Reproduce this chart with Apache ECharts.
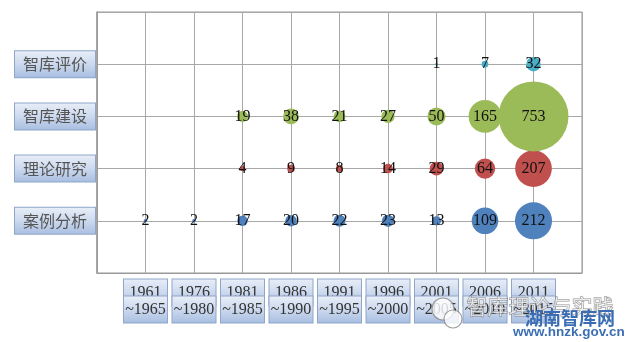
<!DOCTYPE html>
<html>
<head>
<meta charset="utf-8">
<script src="https://cdn.jsdelivr.net/npm/echarts@6/dist/echarts.min.js"></script>
<style>
html,body{margin:0;padding:0;background:#fff;}
#c{width:633px;height:342px;}
</style>
</head>
<body>
<div id="c"></div>
<script>
// ---- data ----
var periods = ['1961\n~1965','1976\n~1980','1981\n~1985','1986\n~1990','1991\n~1995','1996\n~2000','2001\n~2005','2006\n~2010','2011\n~2015'];
var topics = ['案例分析','理论研究','智库建设','智库评价'];
// values per period (null = no bubble)
var caseAnalysis  = [2, 2, 17, 20, 22, 23, 13, 109, 212];
var theoryStudy   = [null, null, 4, 9, 8, 14, 29, 64, 207];
var tankBuilding  = [null, null, 19, 38, 21, 27, 50, 165, 753];
var tankEvaluation= [null, null, null, null, null, null, 1, 7, 32];
var seriesColors = ['#4F81BD','#C0504D','#9BBB59','#4BACC6'];

function toPoints(arr, row){
  var out = [];
  arr.forEach(function(v,i){ if(v!=null) out.push([i+1,row,v]); });
  return out;
}
var chart = echarts.init(document.getElementById('c'));
var boxGrad = function(){
  return new echarts.graphic.LinearGradient(0,0,0,1,[
    {offset:0,color:'#e9eff8'},{offset:0.5,color:'#ccd9ee'},{offset:1,color:'#a7bde0'}]);
};
var allSeries = [caseAnalysis, theoryStudy, tankBuilding, tankEvaluation].map(function(arr, k){
  return {
    type:'scatter',
    name: topics[k],
    data: toPoints(arr, k+1),
    symbolSize: function(d){ return 2.55*Math.sqrt(d[2]); },
    itemStyle:{color:seriesColors[k], opacity:1},
    label:{show:true, position:'inside', formatter:function(p){return p.data[2];},
      color:'#111', fontFamily:'Liberation Serif', fontSize:16},
    emphasis:{disabled:true}
  };
});
chart.setOption({
  animation:false,
  grid:{left:97, right:51, top:12, bottom:69, show:true, borderColor:'#999', borderWidth:1},
  xAxis:{type:'value', min:0, max:10, interval:1,
    axisLine:{show:true, lineStyle:{color:'#999'}}, axisTick:{show:false},
    splitLine:{show:true, lineStyle:{color:'#a8a8a8', width:1}},
    axisLabel:{margin:11, showMinLabel:false, showMaxLabel:false,
      formatter:function(v){ var i=Math.round(v)-1; return (i>=0&&i<periods.length)?'{b|'+periods[i]+'}':''; },
      rich:{b:{fontFamily:'Liberation Serif', fontSize:16, lineHeight:17, color:'#333',
        backgroundColor:boxGrad(), borderColor:'#8fa6c9', borderWidth:1, padding:[5,1,5,1],
        width:41, align:'center'}}}
  },
  yAxis:{type:'value', min:0, max:5, interval:1,
    axisLine:{show:true, lineStyle:{color:'#999', width:1.5}}, axisTick:{show:false},
    splitLine:{show:true, lineStyle:{color:'#a8a8a8', width:1}},
    axisLabel:{margin:2, showMinLabel:false, showMaxLabel:false,
      formatter:function(v){ var i=Math.round(v)-1; return (i>=0&&i<topics.length)?'{b|'+topics[i]+'}':''; },
      rich:{b:{fontFamily:'Noto Sans CJK SC', fontSize:16, color:'#555', lineHeight:17,
        backgroundColor:boxGrad(), borderColor:'#8fa6c9', borderWidth:1, padding:[5,6,5,6],
        width:68, align:'center'}}}
  },
  series: allSeries,
  graphic:[
    {type:'circle', shape:{cx:443, cy:309, r:11}, style:{fill:'rgba(255,255,255,0.8)', stroke:'rgba(120,120,120,0.7)', lineWidth:1.2}, z:100},
    {type:'circle', shape:{cx:453, cy:319, r:9}, style:{fill:'rgba(255,255,255,0.8)', stroke:'rgba(120,120,120,0.7)', lineWidth:1.2}, z:101},
    {type:'text', left:466, top:295, z:102, style:{text:'智库理论与实践', font:'21px "Noto Sans CJK SC"', fill:'rgba(255,255,255,0.65)', stroke:'rgba(110,110,110,0.75)', lineWidth:1}},
    {type:'text', left:525, top:309, z:103, style:{text:'湖南智库网', font:'bold 18px "Noto Sans CJK SC"', fill:'#3b6db5'}},
    {type:'text', left:513, top:325, z:103, style:{text:'www.hnzk.gov.cn', font:'bold 13.5px "Liberation Sans"', fill:'#3d6fb3'}}
  ]
});
</script>
</body>
</html>
